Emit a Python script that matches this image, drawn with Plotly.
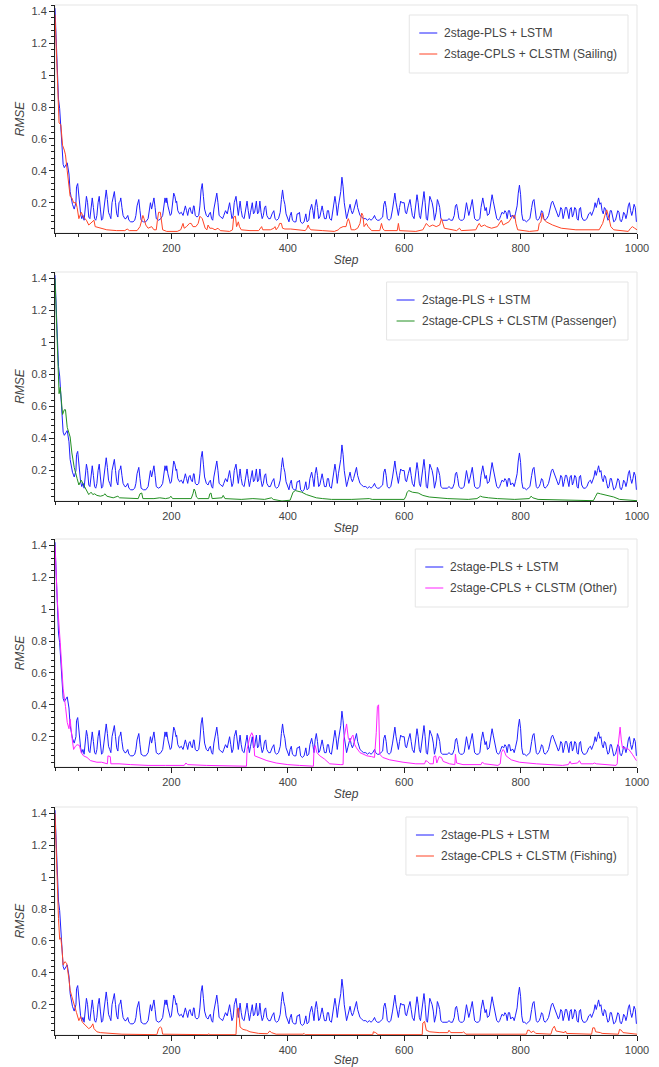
import plotly.graph_objects as go

# ---------------- data ----------------
blue_step = [
    0, 3, 6, 8, 11, 14, 16, 18, 21, 24, 26, 30, 33, 36, 37, 39, 41, 44, 46, 48, 50,
    52, 54, 56, 58, 60, 62, 64, 66, 68, 70, 72, 74, 76, 78, 80, 82, 84, 86, 88, 90, 92, 94, 96, 98, 100,
    102, 104, 106, 108, 110, 112, 113, 115, 117, 120, 122, 125, 127, 130, 134, 137, 139, 141, 144, 146, 148,
    152, 156, 160, 162, 164, 166, 168, 170, 172, 174, 178, 182, 185, 187, 189, 191, 192, 194, 196, 198, 200,
    202, 204, 206, 208, 209, 211, 214, 217, 220, 222, 224, 226, 228, 230, 232, 234, 236, 238, 239, 241, 244, 247, 249,
    251, 253, 255, 257, 260, 263, 265, 267, 269, 271, 273, 276, 278, 280, 282, 285, 288, 290, 293, 296, 298, 300,
    302, 304, 306, 308, 311, 313, 315, 317, 318, 320, 322, 325, 327, 330, 332, 334, 336, 339, 341, 343, 346, 348, 350,
    352, 354, 356, 358, 360, 362, 364, 367, 370, 373, 376, 378, 381, 384, 387, 389, 391, 393, 395, 397, 400,
    402, 404, 406, 408, 411, 414, 416, 418, 420, 422, 425, 428, 430, 431, 433, 436, 438, 441, 443, 445, 447, 449,
    451, 453, 455, 457, 459, 461, 463, 466, 468, 470, 472, 475, 477, 479, 481, 483, 485, 487, 489, 491, 493, 495, 497, 499,
    501, 503, 505, 507, 509, 511, 513, 516, 518, 520, 522, 524, 527, 530, 534, 537, 540, 543, 546, 549,
    551, 554, 557, 560, 563, 565, 567, 569, 571, 574, 577, 580, 582, 584, 586, 588, 590, 592, 594, 596, 598, 600,
    602, 604, 607, 610, 612, 614, 617, 619, 622, 624, 626, 628, 630, 632, 634, 636, 638, 640, 642, 644, 646, 648, 650,
    652, 655, 657, 659, 661, 663, 666, 670, 674, 677, 680, 683, 686, 688, 690, 692, 694, 697, 700,
    703, 705, 707, 709, 711, 713, 715, 717, 719, 721, 724, 727, 730, 732, 735, 737, 739, 741, 743, 746, 749,
    751, 753, 755, 757, 759, 762, 764, 766, 768, 771, 773, 775, 777, 779, 781, 783, 785, 787, 789, 791, 794, 796, 798, 800,
    802, 804, 807, 810, 813, 816, 819, 821, 823, 825, 827, 829, 832, 834, 836, 838, 840, 842, 845, 848,
    851, 853, 855, 857, 859, 861, 863, 865, 867, 869, 871, 873, 875, 877, 879, 881, 883, 885, 887, 889, 891, 893, 895, 897, 899,
    901, 903, 905, 908, 911, 914, 917, 920, 922, 924, 926, 928, 930, 932, 934, 936, 938, 940, 942, 944, 946, 948, 950,
    952, 954, 956, 958, 960, 963, 965, 967, 969, 971, 973, 975, 977, 979, 981, 983, 985, 987, 989, 991, 993, 995, 997, 999,
]
blue_rmse = [
    1.42, 1.1, 0.85, 0.79, 0.59, 0.44, 0.42, 0.43, 0.45, 0.38, 0.27, 0.19, 0.16, 0.2, 0.3, 0.32, 0.22, 0.13, 0.1, 0.12, 0.09,
    0.2, 0.24, 0.2, 0.11, 0.1, 0.18, 0.23, 0.17, 0.1, 0.09, 0.12, 0.2, 0.24, 0.16, 0.09, 0.1, 0.16, 0.25, 0.28, 0.22, 0.14, 0.12, 0.1, 0.2, 0.24,
    0.27, 0.2, 0.13, 0.11, 0.2, 0.21, 0.23, 0.17, 0.12, 0.1, 0.1, 0.12, 0.09, 0.08, 0.08, 0.09, 0.12, 0.18, 0.22, 0.15, 0.09,
    0.08, 0.08, 0.1, 0.17, 0.2, 0.16, 0.21, 0.23, 0.17, 0.1, 0.09, 0.1, 0.12, 0.2, 0.23, 0.2, 0.23, 0.18, 0.14, 0.12, 0.13,
    0.22, 0.26, 0.24, 0.2, 0.21, 0.15, 0.13, 0.14, 0.12, 0.16, 0.18, 0.15, 0.12, 0.16, 0.17, 0.14, 0.13, 0.18, 0.18, 0.12, 0.11, 0.12, 0.18,
    0.28, 0.32, 0.24, 0.16, 0.12, 0.11, 0.13, 0.14, 0.1, 0.09, 0.16, 0.24, 0.26, 0.2, 0.12, 0.11, 0.1, 0.12, 0.15, 0.13, 0.17, 0.2,
    0.15, 0.1, 0.12, 0.2, 0.24, 0.18, 0.12, 0.18, 0.21, 0.15, 0.11, 0.1, 0.15, 0.21, 0.15, 0.1, 0.14, 0.2, 0.13, 0.14, 0.21, 0.13, 0.14,
    0.21, 0.14, 0.1, 0.12, 0.17, 0.18, 0.12, 0.1, 0.1, 0.13, 0.15, 0.1, 0.09, 0.1, 0.14, 0.22, 0.28, 0.22, 0.19, 0.13, 0.1,
    0.08, 0.12, 0.14, 0.09, 0.08, 0.08, 0.13, 0.13, 0.14, 0.08, 0.07, 0.08, 0.12, 0.13, 0.08, 0.09, 0.15, 0.19, 0.15, 0.1, 0.18, 0.22,
    0.17, 0.1, 0.11, 0.15, 0.18, 0.14, 0.1, 0.1, 0.15, 0.15, 0.1, 0.09, 0.15, 0.2, 0.24, 0.19, 0.12, 0.18, 0.22, 0.27, 0.36, 0.3, 0.2, 0.15,
    0.1, 0.13, 0.17, 0.19, 0.15, 0.13, 0.15, 0.19, 0.22, 0.17, 0.14, 0.12, 0.11, 0.1, 0.1, 0.09, 0.1, 0.09, 0.1, 0.12,
    0.1, 0.09, 0.09, 0.1, 0.11, 0.19, 0.21, 0.17, 0.1, 0.09, 0.1, 0.16, 0.22, 0.26, 0.2, 0.15, 0.12, 0.17, 0.21, 0.2, 0.2, 0.2,
    0.14, 0.13, 0.18, 0.22, 0.17, 0.12, 0.1, 0.16, 0.25, 0.2, 0.12, 0.1, 0.15, 0.22, 0.27, 0.2, 0.1, 0.09, 0.17, 0.24, 0.22, 0.2, 0.16,
    0.09, 0.14, 0.22, 0.2, 0.17, 0.1, 0.09, 0.09, 0.09, 0.1, 0.09, 0.09, 0.12, 0.18, 0.19, 0.15, 0.1, 0.09, 0.09,
    0.1, 0.16, 0.2, 0.16, 0.12, 0.15, 0.2, 0.22, 0.16, 0.1, 0.09, 0.09, 0.1, 0.17, 0.23, 0.18, 0.15, 0.17, 0.12, 0.13, 0.2,
    0.25, 0.21, 0.18, 0.15, 0.1, 0.09, 0.1, 0.12, 0.14, 0.13, 0.15, 0.14, 0.1, 0.15, 0.15, 0.11, 0.12, 0.12, 0.1, 0.13, 0.18, 0.26, 0.31, 0.25,
    0.13, 0.09, 0.09, 0.08, 0.09, 0.1, 0.17, 0.21, 0.22, 0.16, 0.1, 0.09, 0.1, 0.12, 0.15, 0.14, 0.1, 0.09, 0.1, 0.12,
    0.17, 0.2, 0.21, 0.19, 0.17, 0.15, 0.12, 0.11, 0.13, 0.17, 0.16, 0.1, 0.13, 0.17, 0.17, 0.12, 0.1, 0.16, 0.17, 0.11, 0.13, 0.17, 0.16, 0.1, 0.09,
    0.16, 0.17, 0.11, 0.09, 0.09, 0.1, 0.13, 0.14, 0.12, 0.14, 0.16, 0.2, 0.17, 0.2, 0.23, 0.19, 0.2, 0.15, 0.13, 0.17, 0.16, 0.12, 0.09,
    0.1, 0.15, 0.15, 0.11, 0.08, 0.09, 0.12, 0.15, 0.14, 0.09, 0.08, 0.1, 0.14, 0.13, 0.1, 0.13, 0.18, 0.2, 0.15, 0.12, 0.15, 0.19, 0.17, 0.08,
]

sailing_step = [
    0, 5, 7, 10, 13, 16, 18, 21, 24, 26, 29, 32, 36, 38, 41, 45, 49, 54, 58, 64, 67, 69, 78, 89, 106,
    120, 124, 128, 141, 146, 149, 151, 153, 156, 160, 166, 170, 174, 176, 178, 181, 183, 185, 192, 210,
    216, 218, 220, 222, 226, 231, 234, 237, 242, 246, 249, 253, 256, 258, 261, 263, 266, 270, 275, 280,
    284, 300, 305, 307, 310, 312, 315, 317, 320, 335, 350, 353, 355, 357, 370, 376, 378, 380, 384, 386,
    389, 391, 395, 405, 415, 430, 433, 435, 437, 440, 460, 480, 487, 489, 495, 500, 502, 504, 506, 509,
    515, 520, 524, 527, 529, 531, 535, 538, 544, 558, 561, 563, 566, 588, 590, 592, 620, 632, 635, 638,
    643, 649, 655, 661, 664, 666, 669, 690, 695, 698, 723, 727, 729, 732, 738, 742, 750, 760, 764, 767,
    770, 780, 786, 790, 792, 795, 815, 830, 832, 835, 837, 839, 844, 855, 870, 895, 935, 941, 946, 948,
    952, 955, 960, 970, 985, 989, 992, 996, 1000,
]
sailing_rmse = [
    1.38, 0.93, 0.7, 0.69, 0.56, 0.53, 0.5, 0.4, 0.3, 0.24, 0.23, 0.2, 0.2, 0.17, 0.1, 0.14, 0.11, 0.09, 0.06, 0.08, 0.09, 0.05, 0.04, 0.03, 0.025,
    0.025, 0.035, 0.025, 0.025, 0.05, 0.09, 0.12, 0.1, 0.06, 0.04, 0.05, 0.03, 0.03, 0.09, 0.14, 0.14, 0.06, 0.03, 0.02, 0.02,
    0.03, 0.06, 0.07, 0.04, 0.05, 0.07, 0.07, 0.05, 0.05, 0.07, 0.115, 0.1, 0.06, 0.04, 0.03, 0.06, 0.04, 0.04, 0.03, 0.04,
    0.025, 0.02, 0.03, 0.11, 0.115, 0.05, 0.08, 0.05, 0.03, 0.025, 0.025, 0.04, 0.05, 0.03, 0.03, 0.04, 0.05, 0.03, 0.05, 0.07,
    0.07, 0.04, 0.035, 0.035, 0.03, 0.025, 0.04, 0.06, 0.04, 0.03, 0.025, 0.02, 0.03, 0.04, 0.05, 0.05, 0.08, 0.1, 0.08, 0.03,
    0.03, 0.04, 0.07, 0.135, 0.12, 0.05, 0.07, 0.05, 0.025, 0.025, 0.07, 0.04, 0.025, 0.025, 0.07, 0.025, 0.02, 0.03, 0.05, 0.07,
    0.05, 0.06, 0.05, 0.06, 0.1, 0.08, 0.04, 0.025, 0.04, 0.025, 0.03, 0.06, 0.07, 0.05, 0.06, 0.05, 0.04, 0.05, 0.07, 0.09,
    0.06, 0.08, 0.115, 0.12, 0.07, 0.03, 0.02, 0.025, 0.07, 0.08, 0.135, 0.1, 0.08, 0.06, 0.04, 0.03, 0.03, 0.07, 0.135, 0.155,
    0.1, 0.05, 0.03, 0.025, 0.02, 0.04, 0.05, 0.04, 0.03,
]

passenger_step = [
    0, 3, 5, 7, 9, 11, 13, 16, 18, 21, 24, 26, 29, 33, 38, 41, 45, 48, 54, 58, 62, 65, 68, 72, 78,
    83, 86, 89, 100, 106, 108, 111, 130, 143, 146, 149, 151, 170, 180, 190, 197, 199, 202, 234, 237,
    239, 241, 243, 246, 264, 266, 268, 270, 287, 289, 292, 320, 340, 360, 370, 372, 375, 390, 404, 407,
    409, 413, 418, 424, 432, 440, 449, 460, 475, 510, 540, 545, 570, 600, 603, 605, 608, 614, 624, 632,
    643, 655, 675, 710, 725, 731, 735, 745, 760, 790, 815, 818, 821, 830, 870, 925, 929, 932, 937, 947,
    960, 970, 985, 1000,
]
passenger_rmse = [
    1.4, 1.1, 0.88, 0.68, 0.72, 0.63, 0.55, 0.58, 0.58, 0.47, 0.43, 0.41, 0.31, 0.22, 0.15, 0.11, 0.14, 0.12, 0.08, 0.05, 0.065, 0.05, 0.055, 0.045, 0.04,
    0.045, 0.055, 0.04, 0.03, 0.035, 0.04, 0.03, 0.025, 0.025, 0.055, 0.06, 0.025, 0.025, 0.03, 0.025, 0.03, 0.04, 0.025, 0.025, 0.055,
    0.085, 0.07, 0.035, 0.025, 0.025, 0.055, 0.06, 0.025, 0.03, 0.045, 0.025, 0.02, 0.025, 0.02, 0.025, 0.03, 0.02, 0.01, 0.015, 0.05,
    0.065, 0.075, 0.07, 0.065, 0.05, 0.04, 0.03, 0.025, 0.02, 0.02, 0.025, 0.02, 0.02, 0.02, 0.04, 0.065, 0.075, 0.065, 0.06, 0.045,
    0.035, 0.03, 0.025, 0.02, 0.025, 0.04, 0.035, 0.03, 0.025, 0.02, 0.025, 0.04, 0.03, 0.02, 0.015, 0.012, 0.04, 0.06, 0.055, 0.045,
    0.035, 0.02, 0.015, 0.012,
]

other_step = [
    0, 4, 9, 12, 14, 18, 21, 24, 26, 29, 32, 35, 38, 42, 45, 49, 55, 61, 72, 80, 89, 90, 91, 95, 96,
    110, 130, 160, 190, 222, 225, 228, 260, 300, 329, 330, 335, 338, 341, 343, 350, 364, 380, 400, 420,
    444, 445, 447, 450, 455, 463, 472, 490, 495, 496, 498, 501, 504, 507, 510, 512, 515, 518, 524, 530,
    536, 544, 549, 552, 554, 556, 558, 563, 575, 598, 620, 635, 637, 640, 644, 650, 651, 654, 656, 660,
    664, 667, 678, 687, 688, 690, 701, 732, 734, 738, 761, 765, 767, 770, 772, 775, 784, 798, 827, 872,
    882, 885, 887, 898, 901, 904, 924, 927, 930, 964, 966, 968, 971, 973, 975, 980, 986, 992, 999,
]
other_rmse = [
    1.4, 1.05, 0.79, 0.6, 0.5, 0.39, 0.29, 0.25, 0.31, 0.2, 0.12, 0.14, 0.15, 0.145, 0.1, 0.08, 0.07, 0.05, 0.04, 0.04, 0.03, 0.03, 0.08, 0.075, 0.03,
    0.03, 0.025, 0.02, 0.02, 0.02, 0.035, 0.025, 0.02, 0.018, 0.015, 0.12, 0.2, 0.225, 0.2, 0.08, 0.07, 0.05, 0.035, 0.025, 0.02,
    0.015, 0.12, 0.145, 0.1, 0.08, 0.06, 0.03, 0.025, 0.025, 0.18, 0.225, 0.28, 0.19, 0.17, 0.2, 0.21, 0.15, 0.13, 0.1, 0.09,
    0.08, 0.075, 0.07, 0.225, 0.39, 0.4, 0.09, 0.07, 0.055, 0.04, 0.03, 0.03, 0.05, 0.045, 0.03, 0.03, 0.075, 0.08, 0.035, 0.075,
    0.07, 0.045, 0.03, 0.025, 0.09, 0.035, 0.025, 0.025, 0.04, 0.03, 0.02, 0.03, 0.1, 0.12, 0.11, 0.08, 0.055, 0.04, 0.03, 0.02,
    0.025, 0.045, 0.03, 0.035, 0.05, 0.03, 0.03, 0.035, 0.03, 0.02, 0.03, 0.16, 0.26, 0.18, 0.13, 0.13, 0.12, 0.09, 0.05,
]

fishing_step = [
    0, 3, 6, 8, 10, 12, 14, 17, 20, 24, 26, 29, 33, 37, 41, 44, 47, 52, 58, 62, 65, 67, 72, 78, 95,
    115, 175, 178, 181, 183, 185, 263, 264, 266, 311, 313, 315, 318, 323, 329, 335, 350, 365, 369, 372,
    380, 426, 428, 430, 546, 547, 551, 555, 631, 632, 635, 638, 644, 660, 675, 677, 680, 700, 702, 706,
    810, 812, 815, 818, 822, 826, 852, 855, 858, 861, 875, 877, 879, 922, 924, 927, 929, 937, 940, 968,
    970, 973, 976, 1000,
]
fishing_rmse = [
    1.4, 1.0, 0.74, 0.61, 0.62, 0.55, 0.45, 0.47, 0.46, 0.36, 0.29, 0.25, 0.19, 0.15, 0.1, 0.125, 0.09, 0.07, 0.05, 0.06, 0.08, 0.05, 0.03, 0.025, 0.02,
    0.015, 0.012, 0.05, 0.06, 0.055, 0.015, 0.012, 0.018, 0.012, 0.012, 0.17, 0.18, 0.06, 0.045, 0.04, 0.03, 0.02, 0.018, 0.035, 0.025,
    0.015, 0.015, 0.02, 0.012, 0.012, 0.03, 0.025, 0.012, 0.012, 0.085, 0.095, 0.04, 0.03, 0.025, 0.025, 0.04, 0.025, 0.025, 0.03, 0.015,
    0.015, 0.04, 0.04, 0.025, 0.035, 0.02, 0.015, 0.05, 0.065, 0.035, 0.025, 0.035, 0.02, 0.015, 0.055, 0.055, 0.03, 0.025, 0.02, 0.015,
    0.045, 0.04, 0.025, 0.015,
]

base_name = "2stage-PLS + LSTM"
panel_names = [
    "2stage-CPLS + CLSTM (Sailing)",
    "2stage-CPLS + CLSTM (Passenger)",
    "2stage-CPLS + CLSTM (Other)",
    "2stage-CPLS + CLSTM (Fishing)",
]
panel_steps = [sailing_step, passenger_step, other_step, fishing_step]
panel_rmse = [sailing_rmse, passenger_rmse, other_rmse, fishing_rmse]
panel_colors = ["#ff4526", "#239023", "#ff22ff", "#ff4526"]
base_color = "#1f1fff"

x_ticks = [200, 400, 600, 800, 1000]
y_ticks = [0.2, 0.4, 0.6, 0.8, 1.0, 1.2, 1.4]
y_tick_text = ["0.2", "0.4", "0.6", "0.8", "1", "1.2", "1.4"]

# ---------------- layout geometry ----------------
W, H = 659, 1067
M_L, M_R, M_T, M_B = 55, 22, 5, 32
plot_w = W - M_L - M_R
plot_h = H - M_T - M_B
panel_tops = [5, 272, 539, 807]
panel_bottoms = [233, 501, 767, 1035]

FONT = "Liberation Sans, Arial, Helvetica, sans-serif"
AXC = "#222222"
TXC = "#444444"
LEG_FS = 12

# approximate Arial advance widths (em fraction) for legend box sizing
_CW = {c: 0.556 for c in "0123456789aeghnopqsbdu"}
_CW.update({"t": 0.278, "i": 0.222, "l": 0.222, "r": 0.333, "f": 0.278, "j": 0.222,
            "-": 0.333, "(": 0.333, ")": 0.333, " ": 0.278, "+": 0.584,
            "C": 0.722, "P": 0.667, "L": 0.556, "S": 0.667, "T": 0.611, "M": 0.833,
            "O": 0.778, "F": 0.611, "k": 0.5, "c": 0.5, "v": 0.5, "y": 0.5, "m": 0.833, "w": 0.722})


def text_w(s, fs):
    return sum(_CW.get(c, 0.6) for c in s) * fs


def px(x):
    return (x - M_L) / plot_w


def py(y):
    return (H - M_B - y) / plot_h


fig = go.Figure()
shapes = []
annotations = []
for i in range(4):
    n = i + 1
    xa = "x" if n == 1 else f"x{n}"
    ya = "y" if n == 1 else f"y{n}"
    nb = min(len(blue_step), len(blue_rmse))
    fig.add_trace(go.Scatter(x=blue_step[:nb], y=blue_rmse[:nb], mode="lines", name=base_name,
                             line=dict(color=base_color, width=1), xaxis=xa, yaxis=ya, showlegend=False))
    ns = min(len(panel_steps[i]), len(panel_rmse[i]))
    fig.add_trace(go.Scatter(x=panel_steps[i][:ns], y=panel_rmse[i][:ns], mode="lines", name=panel_names[i],
                             line=dict(color=panel_colors[i], width=1), xaxis=xa, yaxis=ya, showlegend=False))

    dom = [py(panel_bottoms[i]), py(panel_tops[i])]
    xkey = "xaxis" if n == 1 else f"xaxis{n}"
    ykey = "yaxis" if n == 1 else f"yaxis{n}"
    fig.update_layout(**{
        xkey: dict(domain=[0, 1], anchor=ya, range=[0, 1000], showgrid=False, zeroline=False,
                   showline=True, linecolor=AXC, linewidth=1, mirror=False,
                   ticks="outside", ticklen=5, tickcolor=AXC, tickwidth=1,
                   tickvals=x_ticks, ticktext=[str(v) for v in x_ticks],
                   minor=dict(ticks="outside", ticklen=3, tickcolor=AXC, tickmode="linear", tick0=0, dtick=40),
                   tickfont=dict(family=FONT, size=11, color=TXC),
                   title=dict(text="<i>Step</i>", font=dict(family=FONT, size=12, color=TXC), standoff=2),
                   automargin=False),
        ykey: dict(domain=dom, anchor=xa, range=[0.01, 1.44], showgrid=False, zeroline=False,
                   showline=True, linecolor=AXC, linewidth=1,
                   ticks="outside", ticklen=5, tickcolor=AXC, tickwidth=1,
                   tickvals=y_ticks, ticktext=y_tick_text,
                   minor=dict(ticks="outside", ticklen=3, tickcolor=AXC, tickmode="linear", tick0=0, dtick=0.04),
                   tickfont=dict(family=FONT, size=11, color=TXC),
                   title=dict(text="<i>RMSE</i>", font=dict(family=FONT, size=12, color=TXC), standoff=4),
                   automargin=False),
    })
    # plot frame (light outline)
    shapes.append(dict(type="rect", xref=f"{xa} domain", yref=f"{ya} domain",
                       x0=0, x1=1, y0=0, y1=1, line=dict(color="#e5e5e5", width=1),
                       fillcolor="rgba(0,0,0,0)", layer="below"))

    # legend box (Bokeh-like, top-right)
    labels = [base_name, panel_names[i]]
    colors = [base_color, panel_colors[i]]
    tw = max(text_w(s, LEG_FS) for s in labels)
    right = 628
    left = right - (10 + 18 + 6 + tw + 11)
    top = panel_tops[i] + 10
    bottom = top + 58
    shapes.append(dict(type="rect", xref="paper", yref="paper",
                       x0=px(left), x1=px(right), y0=py(bottom), y1=py(top),
                       line=dict(color="#e5e5e5", width=1), fillcolor="rgba(255,255,255,0.95)",
                       layer="above"))
    for k in range(2):
        yc = top + 18 + 21 * k
        shapes.append(dict(type="line", xref="paper", yref="paper",
                           x0=px(left + 10), x1=px(left + 28), y0=py(yc), y1=py(yc),
                           line=dict(color=colors[k], width=1), layer="above"))
        annotations.append(dict(xref="paper", yref="paper", x=px(left + 33), y=py(yc),
                                xanchor="left", yanchor="middle", showarrow=False, text=labels[k],
                                font=dict(family=FONT, size=LEG_FS, color=TXC)))

fig.update_layout(
    width=W, height=H, template="none",
    margin=dict(l=M_L, r=M_R, t=M_T, b=M_B),
    paper_bgcolor="white", plot_bgcolor="white",
    font=dict(family=FONT, size=11, color=TXC),
    shapes=shapes, annotations=annotations, showlegend=False,
)

fig.write_html("out.html")
